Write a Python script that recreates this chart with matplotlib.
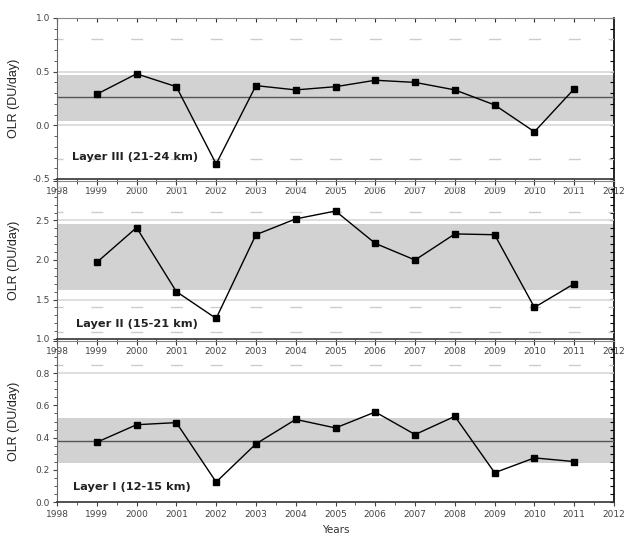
import matplotlib
matplotlib.use("Agg")
import matplotlib.pyplot as plt
from matplotlib.ticker import MultipleLocator, FuncFormatter

years = [1999, 2000, 2001, 2002, 2003, 2004, 2005, 2006, 2007, 2008, 2009, 2010, 2011]

layer3 = [0.29, 0.48, 0.36, -0.36, 0.37, 0.33, 0.36, 0.42, 0.40, 0.33, 0.19, -0.06, 0.34]
layer2 = [1.97, 2.41, 1.60, 1.26, 2.32, 2.52, 2.62, 2.21, 2.00, 2.33, 2.32, 1.40, 1.70]
layer1 = [0.371, 0.480, 0.493, 0.124, 0.361, 0.513, 0.460, 0.559, 0.419, 0.532, 0.182, 0.274, 0.251]

labels = ["Layer III (21-24 km)", "Layer II (15-21 km)", "Layer I (12-15 km)"]
ylims = [(-0.5, 1.0), (1.0, 3.0), (0.0, 1.0)]
major_steps = [0.5, 0.5, 0.2]
minor_steps = [0.1, 0.1, 0.05]
bands = [(0.04, 0.47), (1.62, 2.45), (0.244, 0.52)]
means = [0.26, None, 0.38]
grid_vals = [[0.5, 0.0], [2.5, 1.5], [0.8]]
dash_vals = [[0.80, -0.31], [2.93, 2.61, 1.40, 1.09], [0.85]]
series = [layer3, layer2, layer1]

W, H = 627, 537
fig = plt.figure(figsize=(W / 100, H / 100), dpi=100)

# panel pixel extents (top, bottom)
panels = [(18, 179), (181, 339), (341, 502)]
left, right = 57, 614
label_pos = [(0.027, 0.137), (0.034, 0.093), (0.028, 0.093)]

tick_col = "#444444"


def make_fmt(hide_top, top_val):
    def fmt(v, pos):
        if hide_top and abs(v - top_val) < 1e-6:
            return ""
        return f"{v:.1f}"
    return fmt


for i, (top, bot) in enumerate(panels):
    ax = fig.add_axes([left / W, 1 - bot / H, (right - left) / W, (bot - top) / H])
    ax.set_facecolor("none")
    ax.set_xlim(1998, 2012)
    ax.set_ylim(*ylims[i])

    ax.axhspan(bands[i][0], bands[i][1], color="#d2d2d2", lw=0, zorder=0)
    for g in grid_vals[i]:
        ax.axhline(g, color="#d8d8d8", lw=1.2, zorder=1)
    for d in dash_vals[i]:
        ax.axhline(d, color="#cccccc", lw=1.0, ls=(4.3, (8.65, 20.0)), zorder=1)
    if means[i] is not None:
        ax.axhline(means[i], color="#555555", lw=1.0, zorder=2)

    ax.plot(years, series[i], color="black", lw=1.0, marker="s", ms=4.5, zorder=5)

    ax.text(label_pos[i][0], label_pos[i][1], labels[i], transform=ax.transAxes,
            fontsize=8.2, fontweight="bold", color="#222222", va="center", ha="left")

    ax.xaxis.set_major_locator(MultipleLocator(1))
    ax.xaxis.set_minor_locator(MultipleLocator(0.5))
    ax.yaxis.set_major_locator(MultipleLocator(major_steps[i]))
    ax.yaxis.set_minor_locator(MultipleLocator(minor_steps[i]))
    ax.yaxis.set_major_formatter(FuncFormatter(make_fmt(i > 0, ylims[i][1])))
    ax.tick_params(axis="x", which="both", direction="out", labelsize=6.5,
                   colors=tick_col, pad=3)
    ax.tick_params(axis="x", which="major", length=3)
    ax.tick_params(axis="x", which="minor", length=2)
    ax.tick_params(axis="y", which="both", direction="out", right=False, labelsize=6.5,
                   colors=tick_col, pad=2)
    ax.tick_params(axis="y", which="major", length=3)
    ax.tick_params(axis="y", which="minor", length=2)
    ax.set_xticks(range(1998, 2013))
    ax.set_xticklabels([str(y) for y in range(1998, 2013)])

    # right and top ticks point inward
    axr = ax.secondary_yaxis("right")
    axr.yaxis.set_major_locator(MultipleLocator(minor_steps[i]))
    axr.tick_params(direction="in", length=3, labelright=False, colors="black")
    axt = ax.secondary_xaxis("top")
    axt.xaxis.set_major_locator(MultipleLocator(1))
    axt.xaxis.set_minor_locator(MultipleLocator(0.5))
    axt.tick_params(which="major", direction="in", length=3, labeltop=False, colors="#333333")
    axt.tick_params(which="minor", direction="in", length=2, colors="#333333")
    axt.spines["top"].set_color("#888888")
    axr.spines["right"].set_color("black")
    axr.spines["right"].set_linewidth(1.2)

    ax.spines["top"].set_visible(False)
    ax.spines["right"].set_visible(False)
    ax.spines["left"].set_color("#666666")
    ax.spines["bottom"].set_color("#333333")
    ax.spines["bottom"].set_linewidth(1.2)

    ax.set_ylabel("OLR (DU/day)", fontsize=9, family="Liberation Sans", color="#222222")
    ax.yaxis.set_label_coords(-0.066, 0.5)

fig.text((left + right) / 2 / W, 1 - 530 / H, "Years", ha="center", va="center",
         fontsize=7.5, color="#333333")

fig.savefig("out.png", dpi=100)
